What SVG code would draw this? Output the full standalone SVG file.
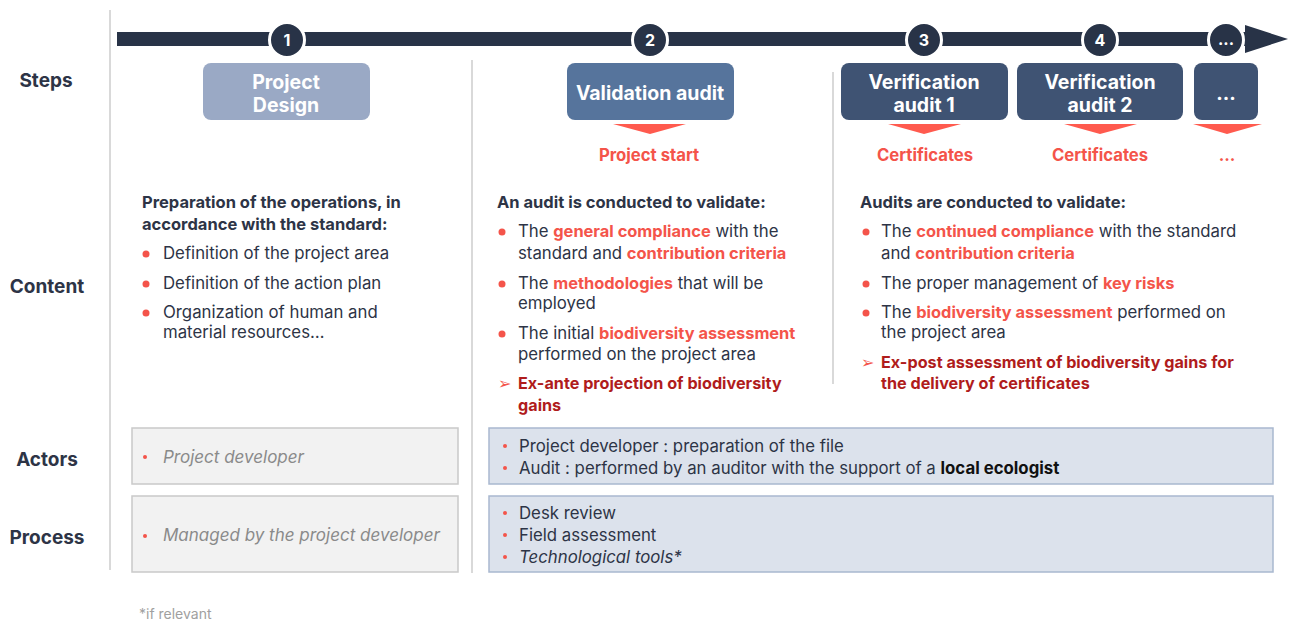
<svg xmlns="http://www.w3.org/2000/svg" width="1290" height="621" viewBox="0 0 1290 621">
<style>
text{font-family:Inter,"Liberation Sans",sans-serif;fill:#2d3446}
.lbl{font-size:19px;font-weight:700;text-anchor:middle}
.box{font-size:19.5px;font-weight:700;fill:#fff;text-anchor:middle}
.num{font-size:16px;font-weight:700;fill:#fff;text-anchor:middle}
.red{fill:#f4544a}
.rb{fill:#f4544a;font-weight:700}
.bt .rb{font-size:16.4px}
.st{font-size:16.7px;text-anchor:middle}
.dr{fill:#b01c1c;font-weight:700;font-size:16.2px}
.hd{font-size:16.5px;font-weight:700}
.bt{font-size:16.8px}
.sm{font-size:16.8px}
.it{font-style:italic;fill:#8a8a8a;font-size:17px}
.sep{stroke:#d9d9d9;stroke-width:2}
.gbox{fill:#f2f2f2;stroke:#c9c9c9;stroke-width:1.5}
.bbox{fill:#dce2ec;stroke:#a9b8cf;stroke-width:1.5}
.tri{fill:#ff5a4e}
.circ{fill:#283347;stroke:#fff;stroke-width:3}
</style>
<g id="separators">
<line class="sep" x1="110" y1="10" x2="110" y2="570"/>
<line class="sep" x1="472" y1="60" x2="472" y2="573"/>
<line class="sep" x1="833" y1="72" x2="833" y2="384"/>
</g>
<g id="row-labels">
<text class="lbl" x="46" y="87">Steps</text>
<text class="lbl" x="47" y="293">Content</text>
<text class="lbl" x="47" y="466">Actors</text>
<text class="lbl" x="47" y="544">Process</text>
</g>
<g id="connectors">
<rect x="117" y="32" width="1130" height="14" fill="#283347"/>
<polygon points="1245,25 1288,39 1245,53" fill="#283347"/>
</g>
<g id="markers">
<circle class="circ" cx="287" cy="40" r="17.5"/><text class="num" x="287" y="46">1</text>
<circle class="circ" cx="650" cy="40" r="17.5"/><text class="num" x="650" y="46">2</text>
<circle class="circ" cx="924" cy="40" r="17.5"/><text class="num" x="924" y="46">3</text>
<circle class="circ" cx="1100" cy="40" r="17.5"/><text class="num" x="1100" y="46">4</text>
<circle class="circ" cx="1226" cy="40" r="17.5"/><text class="num" x="1226" y="45">...</text>
</g>
<g id="step-project-design">
<rect x="203" y="63" width="167" height="57" rx="8" fill="#9aa9c5"/>
<text class="box" x="286" y="89">Project</text>
<text class="box" x="286" y="112">Design</text>
</g>
<g id="step-validation">
<rect x="567" y="63" width="167" height="57" rx="8" fill="#56749c"/>
<text class="box" x="650" y="100">Validation audit</text>
<polygon class="tri" points="613,124 686,124 650,134"/>
<text class="rb st" x="649" y="161">Project start</text>
</g>
<g id="step-verification-1">
<rect x="841" y="63" width="167" height="57" rx="8" fill="#3f5373"/>
<text class="box" x="924" y="89">Verification</text>
<text class="box" x="924" y="112">audit 1</text>
<polygon class="tri" points="888,124 961,124 924,134"/>
<text class="rb st" x="925" y="161">Certificates</text>
</g>
<g id="step-verification-2">
<rect x="1017" y="63" width="166" height="57" rx="8" fill="#3f5373"/>
<text class="box" x="1100" y="89">Verification</text>
<text class="box" x="1100" y="112">audit 2</text>
<polygon class="tri" points="1064,124 1137,124 1100,134"/>
<text class="rb st" x="1100" y="161">Certificates</text>
</g>
<g id="step-more">
<rect x="1194" y="63" width="64" height="57" rx="8" fill="#3f5373"/>
<text class="box" x="1226" y="100">...</text>
<polygon class="tri" points="1193,124 1262,124 1227,134"/>
<text class="rb st" x="1227" y="161">...</text>
</g>
<g id="content-design">
<text class="hd" x="142" y="208">Preparation of the operations, in</text>
<text class="hd" x="142" y="230">accordance with the standard:</text>
<circle class="red" cx="146" cy="254" r="3.5"/><text class="bt" x="163" y="259">Definition of the project area</text>
<circle class="red" cx="146" cy="284" r="3.5"/><text class="bt" x="163" y="289">Definition of the action plan</text>
<circle class="red" cx="146" cy="313" r="3.5"/><text class="bt" x="163" y="318">Organization of human and</text>
<text class="bt" x="163" y="338">material resources…</text>
</g>
<g id="content-validation">
<text class="hd" x="497" y="208">An audit is conducted to validate:</text>
<circle class="red" cx="502" cy="232" r="3.5"/><text class="bt" x="518" y="237">The <tspan class="rb">general compliance</tspan> with the</text>
<text class="bt" x="518" y="259">standard and <tspan class="rb">contribution criteria</tspan></text>
<circle class="red" cx="502" cy="284" r="3.5"/><text class="bt" x="518" y="289">The <tspan class="rb">methodologies</tspan> that will be</text>
<text class="bt" x="518" y="309">employed</text>
<circle class="red" cx="502" cy="334" r="3.5"/><text class="bt" x="518" y="339">The initial <tspan class="rb">biodiversity assessment</tspan></text>
<text class="bt" x="518" y="360">performed on the project area</text>
<text class="red" x="498" y="389" font-size="16">➢</text>
<text class="dr" x="518" y="389">Ex-ante projection of biodiversity</text>
<text class="dr" x="518" y="411">gains</text>
</g>
<g id="content-verification">
<text class="hd" x="860" y="208">Audits are conducted to validate:</text>
<circle class="red" cx="866" cy="232" r="3.5"/><text class="bt" x="881" y="237">The <tspan class="rb">continued compliance</tspan> with the standard</text>
<text class="bt" x="881" y="259">and <tspan class="rb">contribution criteria</tspan></text>
<circle class="red" cx="866" cy="284" r="3.5"/><text class="bt" x="881" y="289">The proper management of <tspan class="rb">key risks</tspan></text>
<circle class="red" cx="866" cy="313" r="3.5"/><text class="bt" x="881" y="318">The <tspan class="rb">biodiversity assessment</tspan> performed on</text>
<text class="bt" x="881" y="338">the project area</text>
<text class="red" x="861" y="368" font-size="16">➢</text>
<text class="dr" x="881" y="368">Ex-post assessment of biodiversity gains for</text>
<text class="dr" x="881" y="389">the delivery of certificates</text>
</g>
<g id="actors-design">
<rect class="gbox" x="132" y="428" width="326" height="56"/>
<circle class="red" cx="145" cy="457" r="2"/>
<text class="it" x="163" y="463">Project developer</text>
</g>
<g id="actors-audits">
<rect class="bbox" x="489" y="428" width="784" height="56"/>
<circle class="red" cx="505" cy="446" r="2"/>
<text class="sm" x="519" y="452">Project developer : preparation of the file</text>
<circle class="red" cx="505" cy="468" r="2"/>
<text class="sm" x="519" y="474">Audit : performed by an auditor with the support of a <tspan font-weight="700" fill="#111">local ecologist</tspan></text>
</g>
<g id="process-design">
<rect class="gbox" x="132" y="496" width="326" height="76"/>
<circle class="red" cx="145" cy="536" r="2"/>
<text class="it" x="163" y="541">Managed by the project developer</text>
</g>
<g id="process-audits">
<rect class="bbox" x="489" y="496" width="784" height="76"/>
<circle class="red" cx="505" cy="513" r="2"/>
<text class="sm" x="519" y="519">Desk review</text>
<circle class="red" cx="505" cy="535" r="2"/>
<text class="sm" x="519" y="541">Field assessment</text>
<circle class="red" cx="505" cy="557" r="2"/>
<text class="sm" x="519" y="563" font-style="italic">Technological tools*</text>
</g>
<text x="139" y="619" font-size="14" style="fill:#a0a0a0">*if relevant</text>
</svg>
